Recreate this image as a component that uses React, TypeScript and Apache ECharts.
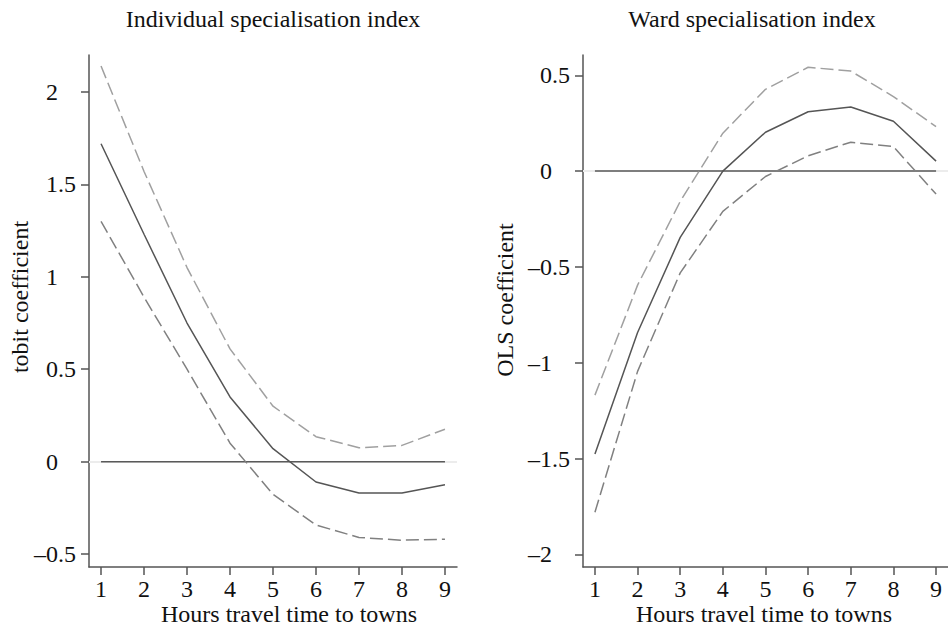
import React, { useEffect, useRef } from "react";
import * as echarts from "echarts";

const hours = [1, 2, 3, 4, 5, 6, 7, 8, 9];

const indCoef = [1.72, 1.23, 0.75, 0.35, 0.07, -0.11, -0.17, -0.17, -0.125];
const indUpper = [2.14, 1.57, 1.05, 0.61, 0.3, 0.135, 0.075, 0.088, 0.175];
const indLower = [1.3, 0.89, 0.5, 0.1, -0.177, -0.343, -0.41, -0.425, -0.42];

const wardCoef = [-1.476, -0.842, -0.346, 0.0, 0.203, 0.31, 0.335, 0.26, 0.052];
const wardUpper = [-1.169, -0.595, -0.158, 0.198, 0.427, 0.542, 0.522, 0.389, 0.232];
const wardLower = [-1.78, -1.045, -0.531, -0.21, -0.028, 0.08, 0.151, 0.128, -0.12];

const zeroLine = [0, 0, 0, 0, 0, 0, 0, 0, 0];

const xTicks = [1, 2, 3, 4, 5, 6, 7, 8, 9];
const indYTicks = [-0.5, 0, 0.5, 1, 1.5, 2];
const wardYTicks = [-2, -1.5, -1, -0.5, 0, 0.5];

const FONT = "'Liberation Serif', 'Times New Roman', serif";
const AXIS_COLOR = "#555";

const fmtY = (v: number) => {
  const neg = v < 0;
  const a = Math.abs(v);
  const r = Math.round(a * 10) / 10;
  const s = (neg ? "\u2013" : "") + String(r);
  if (Number.isInteger(r)) return `{i|${s}}`;
  return `{d|${s}}`;
};

const pairs = (ys: number[]) => hours.map((h, i) => [h, ys[i]]);

export default function App() {
  const ref = useRef<HTMLDivElement>(null);
  useEffect(() => {
    if (!ref.current) return;
    document.body.style.margin = "0";
    const chart = echarts.init(ref.current, null, { renderer: "svg" });

    const xAxisBase = (gridIndex: number) => ({
      type: "value",
      gridIndex,
      min: 0.72,
      max: 9.28,
      axisLine: { show: true, onZero: false, lineStyle: { color: AXIS_COLOR, width: 1.5 } },
      axisTick: { show: true, length: 8, customValues: xTicks, lineStyle: { color: AXIS_COLOR, width: 1.5 } },
      axisLabel: {
        show: true,
        customValues: xTicks,
        margin: 12,
        fontSize: 24,
        lineHeight: 20,
        fontFamily: FONT,
        color: "#111",
      },
      splitLine: { show: false },
    });

    const yAxisBase = (gridIndex: number, min: number, max: number, ticks: number[]) => ({
      type: "value",
      gridIndex,
      min,
      max,
      axisLine: { show: true, onZero: false, lineStyle: { color: AXIS_COLOR, width: 1.5 } },
      axisTick: { show: true, length: 8, customValues: ticks, lineStyle: { color: AXIS_COLOR, width: 1.5 } },
      axisLabel: {
        show: true,
        customValues: ticks,
        margin: 13,
        formatter: fmtY,
        rich: {
          i: { fontSize: 24, fontFamily: FONT, color: "#111", padding: [0, 18, 0, 0] },
          d: { fontSize: 24, fontFamily: FONT, color: "#111" },
        },
      },
      splitLine: { show: false },
    });

    const lineSeries = (xi: number, data: number[], color: string, dashed: boolean) => ({
      type: "line",
      xAxisIndex: xi,
      yAxisIndex: xi,
      data: pairs(data),
      showSymbol: false,
      symbol: "none",
      z: 3,
      lineStyle: { color, width: 1.5, type: dashed ? [13, 5] : "solid" },
    });

    const zeroSeries = (xi: number) => ({
      type: "line",
      xAxisIndex: xi,
      yAxisIndex: xi,
      data: pairs(zeroLine),
      symbol: "none",
      z: 2,
      lineStyle: { color: "#5a5a5a", width: 1.5 },
      markLine: {
        silent: true,
        symbol: "none",
        label: { show: false },
        lineStyle: { color: "#ececec", width: 2, type: "solid" },
        data: [{ yAxis: 0 }],
        z: 1,
      },
    });

    const textStyle = { fontSize: 24, lineHeight: 20, fontFamily: FONT, fill: "#111" };

    chart.setOption({
      animation: false,
      backgroundColor: "#fff",
      grid: [
        { left: 89, top: 55, width: 368, height: 512 },
        { left: 583, top: 55, width: 368, height: 512 },
      ],
      xAxis: [xAxisBase(0), xAxisBase(1)],
      yAxis: [
        yAxisBase(0, -0.57, 2.2, indYTicks),
        yAxisBase(1, -2.066, 0.606, wardYTicks),
      ],
      series: [
        zeroSeries(0),
        lineSeries(0, indUpper, "#a0a0a0", true),
        lineSeries(0, indLower, "#808080", true),
        lineSeries(0, indCoef, "#555555", false),
        zeroSeries(1),
        lineSeries(1, wardUpper, "#a0a0a0", true),
        lineSeries(1, wardLower, "#808080", true),
        lineSeries(1, wardCoef, "#555555", false),
      ],
      graphic: [
        { type: "text", x: 273, y: 19, style: { ...textStyle, text: "Individual specialisation index", align: "center", verticalAlign: "middle" } },
        { type: "text", x: 752, y: 19, style: { ...textStyle, text: "Ward specialisation index", align: "center", verticalAlign: "middle" } },
        { type: "text", x: 289, y: 614, style: { ...textStyle, text: "Hours travel time to towns", align: "center", verticalAlign: "middle" } },
        { type: "text", x: 764, y: 614, style: { ...textStyle, text: "Hours travel time to towns", align: "center", verticalAlign: "middle" } },
        { type: "text", x: 20, y: 297, rotation: Math.PI / 2, style: { ...textStyle, text: "tobit coefficient", align: "center", verticalAlign: "middle" } },
        { type: "text", x: 505, y: 300, rotation: Math.PI / 2, style: { ...textStyle, text: "OLS coefficient", align: "center", verticalAlign: "middle" } },
      ],
    });
    return () => chart.dispose();
  }, []);
  return (
    <div
      ref={ref}
      style={{ position: "absolute", left: 0, top: 0, width: 948, height: 626, background: "#fff" }}
    />
  );
}
